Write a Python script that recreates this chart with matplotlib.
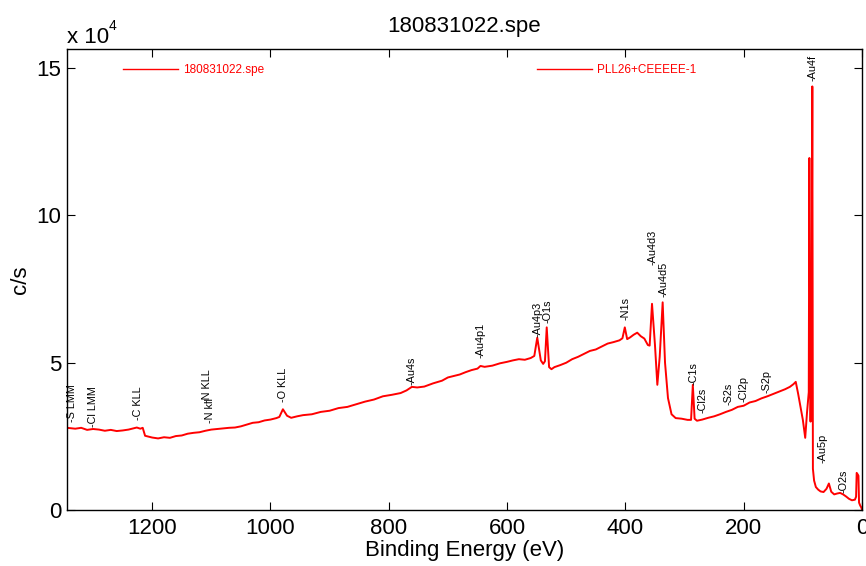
import matplotlib
matplotlib.use("Agg")
from matplotlib import pyplot as plt
from matplotlib.lines import Line2D

plt.rcParams['font.family'] = ['Liberation Sans', 'DejaVu Sans']

# survey spectrum (binding energy eV, counts c/s)
energy = [1344, 1330, 1320, 1310, 1300, 1290, 1280, 1270, 1260, 1250, 1240, 1232, 1226, 1220, 1216,
          1212, 1200, 1190, 1180, 1170, 1160, 1150, 1140, 1130, 1120, 1110, 1100, 1090, 1080, 1070,
          1060, 1050, 1040, 1030, 1020, 1010, 1000, 990, 985, 979, 972, 965, 955, 945, 930, 915,
          900, 885, 870, 855, 840, 825, 810, 795, 780, 770, 761, 752, 740, 725, 710, 700, 690,
          680, 670, 660, 650, 645, 638, 625, 612, 600, 590, 580, 570, 560, 554, 549, 543, 539,
          536, 533, 529, 525, 520, 510, 500, 490, 480, 470, 460, 450, 440, 430, 420, 410, 405,
          401, 397, 392, 386, 380, 374, 368, 362, 359, 355, 350, 346, 342, 337, 333, 328, 322,
          315, 305, 295, 289, 286, 283, 279, 270, 260, 250, 240, 230, 220, 210, 200, 190, 180,
          170, 160, 150, 140, 130, 122, 116, 112, 108, 104, 100, 96, 93, 90, 89, 87, 85, 84,
          83, 81, 78, 74, 70, 65, 60, 56, 52, 47, 42, 37, 32, 27, 22, 17, 12, 10, 9, 7, 6, 5,
          3, 1, 0]
counts = [27900, 27600, 27900, 27200, 27500, 27300, 26900, 27200, 26800, 27000, 27300, 27700, 28000, 27600, 27900,
          25200, 24600, 24300, 24700, 24500, 25100, 25300, 25900, 26200, 26400, 26900, 27300, 27500, 27700, 27900,
          28000, 28400, 29000, 29600, 29800, 30400, 30700, 31200, 31600, 34200, 32000, 31300, 31800, 32200, 32500, 33300,
          33700, 34600, 35000, 35900, 36800, 37500, 38600, 39100, 39700, 40600, 41800, 41600, 41900, 43000, 43900, 45000, 45500,
          46000, 46800, 47500, 48000, 48900, 48600, 49000, 49800, 50300, 50800, 51200, 51000, 51600, 52300, 58500, 50800, 49600,
          50500, 62000, 48500, 47800, 48500, 49200, 50000, 51200, 52000, 53000, 54000, 54500, 55500, 56500, 57000, 57600, 58300,
          62000, 58000, 58600, 59500, 60200, 59000, 58200, 56000, 55800, 70000, 56000, 42500, 52000, 70500, 50000, 38000, 32500,
          31200, 31000, 30600, 30600, 42500, 31000, 30300, 30700, 31300, 31800, 32500, 33300, 34000, 35000, 35400, 36500, 37000,
          37900, 38600, 39400, 40200, 41000, 41800, 42700, 43500, 39500, 35000, 30600, 24500, 33000, 40000, 119500, 30000, 70000, 143800,
          14000, 10000, 7800, 6900, 6300, 6100, 7200, 9000, 6200, 5300, 5600, 5800, 5300, 4600, 3800, 3300, 3500, 4500, 12600, 12000, 11600, 2500,
          1500, 800, 0]

# peak labels: text, energy, counts at the bottom of the text
peak_names = ['-S LMM', '-Cl LMM', '-C KLL', '-N kll', '-N KLL', '-O KLL', '-Au4s', '-Au4p1', '-Au4p3',
              '-O1s', '-N1s', '-Au4d3', '-Au4d5', '-C1s', '-Cl2s', '-S2s', '-Cl2p', '-S2p', '-Au4f',
              '-Au5p', '-O2s']
peak_energy = [1336, 1300, 1224, 1103, 1108, 979, 761, 645, 549, 532, 400, 354, 336, 285, 270, 226,
               201, 162, 84, 67, 31]
peak_counts = [29900, 28200, 30600, 29600, 36400, 36700, 42500, 51700, 58800, 63600, 64600, 83300,
               72400, 42500, 33000, 35700, 36700, 39800, 145500, 16000, 5800]

legend_labels = ['180831022.spe', 'PLL26+CEEEEE-1']
xticks = [0, 200, 400, 600, 800, 1000, 1200]
yticks = [0, 50000, 100000, 150000]
ytick_labels = ['0', '5', '10', '15']

fig = plt.figure(figsize=(8.66, 5.66), dpi=100)
ax = fig.add_axes([67/866, 1-510/566, 795/866, 461/566])

ax.plot(energy, counts, color='#ff0000', lw=1.4)

for name, e, c in zip(peak_names, peak_energy, peak_counts):
    ax.text(e, c, name, rotation=90, ha='center', va='bottom', fontsize=7.8, color='black')

ax.set_xlim(1344, 0)
ax.set_ylim(0, 156500)
ax.set_xticks(xticks)
ax.set_yticks(yticks)
ax.set_yticklabels(ytick_labels)
ax.tick_params(direction='in', top=True, right=True, labelsize=16, length=6, width=0.8)
ax.tick_params(axis='x', pad=6)
ax.tick_params(axis='y', pad=4)
for s in ax.spines.values():
    s.set_linewidth(1.0)

ax.set_xlabel('Binding Energy (eV)', fontsize=16)
ax.xaxis.set_label_coords(0.5, -0.065)
ax.set_ylabel('c/s', fontsize=16)
ax.yaxis.set_label_coords(-0.045, 0.5)
ax.set_title('180831022.spe', fontsize=16, pad=12)

fig.text(67/866, 1-43/566, 'x 10', fontsize=16, va='baseline', ha='left')
fig.text(109/866, 1-30/566, '4', fontsize=10, va='baseline', ha='left')

handles = [Line2D([], [], color='#ff0000', lw=1), Line2D([], [], color='#ff0000', lw=1)]
leg = ax.legend(handles, legend_labels, loc='upper left', bbox_to_anchor=(0.0704, 0.967),
                ncol=2, frameon=False, fontsize=8.5, borderaxespad=0, borderpad=0,
                handlelength=4.66, handletextpad=0.42, columnspacing=23.1)
for t in leg.get_texts():
    t.set_color('#ff0000')

fig.savefig('out.png', dpi=100)
